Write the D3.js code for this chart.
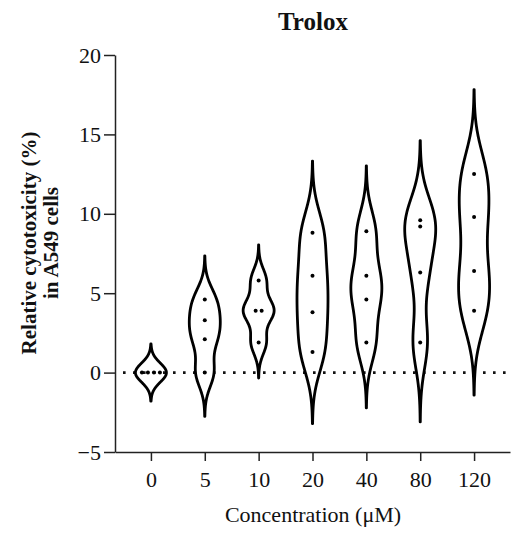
<!DOCTYPE html>
<html>
<head>
<meta charset="utf-8">
<script src="https://cdn.jsdelivr.net/npm/d3@7"></script>
<style>
  body { margin: 0; background: #fff; }
  text { font-family: "Liberation Serif", "Times New Roman", serif; fill: #111; }
</style>
</head>
<body>
<div id="chart"></div>
<script>
// categories (x) and the replicate values of each group
var concentrations = ["0", "5", "10", "20", "40", "80", "120"];
var conc0   = [0, 0, 0, 0];
var conc5   = [4.6, 3.3, 2.1, 0.0];
var conc10  = [5.8, 3.9, 3.9, 1.9];
var conc20  = [8.8, 6.1, 3.8, 1.3];
var conc40  = [8.9, 6.1, 4.6, 1.9];
var conc80  = [9.6, 9.2, 6.3, 1.9];
var conc120 = [12.5, 9.8, 6.4, 3.9];
var yTicks = [-5, 0, 5, 10, 15, 20];

var groups = [conc0, conc5, conc10, conc20, conc40, conc80, conc120];

var width = 513, height = 533;
var svg = d3.select("#chart").append("svg")
    .attr("width", width)
    .attr("height", height);

var x = d3.scalePoint()
    .domain(concentrations)
    .range([115, 510])
    .padding(0.667);

var y = d3.scaleLinear()
    .domain([-5, 20])
    .range([452, 55]);

// gaussian kernel density, bandwidth from the spread of the group
function density(vals) {
    var sd = d3.deviation(vals) || 0;
    var bw = sd > 0 ? 0.47 * sd : 0.6;
    var lo = d3.min(vals) - 3 * bw, hi = d3.max(vals) + 3 * bw;
    return d3.range(0, 161).map(function(i) {
        var v = lo + (hi - lo) * i / 160;
        var d = d3.sum(vals, function(p) { return Math.exp(-0.5 * Math.pow((v - p) / bw, 2)); });
        return [v, d];
    });
}

// zero line
svg.append("line")
    .attr("x1", x.range()[0] + 8)
    .attr("x2", x.range()[1])
    .attr("y1", y(0))
    .attr("y2", y(0))
    .attr("stroke", "#111")
    .attr("stroke-width", 2.6)
    .attr("stroke-dasharray", "2.6,7.4");

// violins
groups.forEach(function(vals, i) {
    var cx = x(concentrations[i]);
    var dens = density(vals);
    var w = d3.scaleLinear()
        .domain([0, d3.max(dens, function(d) { return d[1]; })])
        .range([0, 15.5]);
    var area = d3.area()
        .y(function(d) { return y(d[0]); })
        .x0(function(d) { return cx - w(d[1]); })
        .x1(function(d) { return cx + w(d[1]); })
        .curve(d3.curveCatmullRom);
    svg.append("path")
        .datum(dens)
        .attr("d", area)
        .attr("fill", "none")
        .attr("stroke", "#000")
        .attr("stroke-width", 2.8)
        .attr("stroke-linejoin", "round");

    // dots, ties spread sideways
    var counts = d3.rollup(vals, function(v) { return v.length; }, function(v) { return v; });
    var seen = new Map();
    vals.forEach(function(v) {
        var n = counts.get(v), k = seen.get(v) || 0;
        seen.set(v, k + 1);
        svg.append("circle")
            .attr("cx", cx + (k - (n - 1) / 2) * 6)
            .attr("cy", y(v))
            .attr("r", 2)
            .attr("fill", "#000");
    });
});

// axes
var yAxis = svg.append("g")
    .attr("transform", "translate(115,0)")
    .call(d3.axisLeft(y).tickValues(yTicks).tickSize(11).tickSizeOuter(0).tickPadding(3));
var xAxis = svg.append("g")
    .attr("transform", "translate(0,452)")
    .call(d3.axisBottom(x).tickSize(9).tickSizeOuter(0).tickPadding(10));

[yAxis, xAxis].forEach(function(g) {
    g.selectAll("path, line").attr("stroke", "#222").attr("stroke-width", 1.5);
    g.selectAll("text").attr("font-size", 22).attr("font-family", "Liberation Serif").attr("fill", "#111");
});

// titles
svg.append("text")
    .attr("x", 313)
    .attr("y", 30)
    .attr("text-anchor", "middle")
    .attr("font-size", 25)
    .attr("font-weight", "bold")
    .text("Trolox");

svg.append("text")
    .attr("x", 313)
    .attr("y", 522)
    .attr("text-anchor", "middle")
    .attr("font-size", 22)
    .text("Concentration (\u03bcM)");

var ylab = svg.append("text")
    .attr("transform", "translate(0,243) rotate(-90)")
    .attr("text-anchor", "middle")
    .attr("font-size", 21)
    .attr("font-weight", "bold");
ylab.append("tspan").attr("x", 0).attr("y", 36).text("Relative cytotoxicity (%)");
ylab.append("tspan").attr("x", 0).attr("y", 58).text("in A549 cells");
</script>
</body>
</html>
